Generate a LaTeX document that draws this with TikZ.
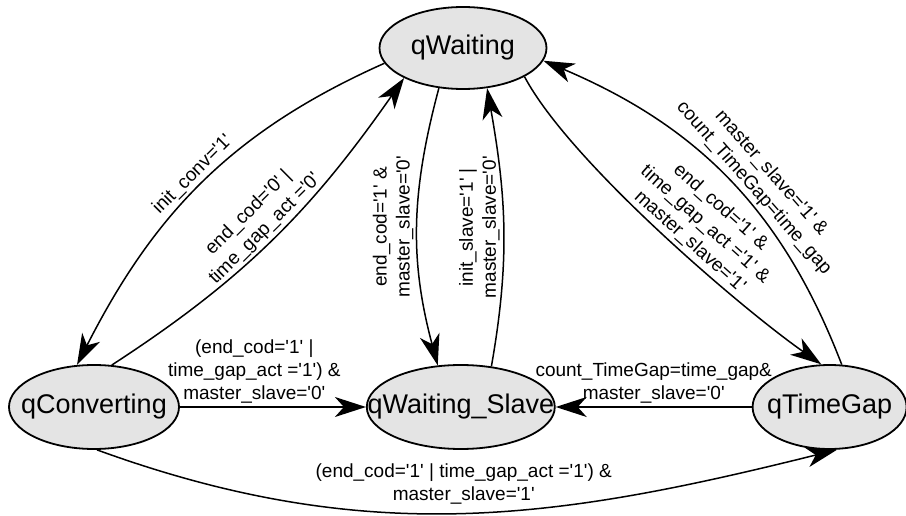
\documentclass[tikz,border=0pt]{standalone}
\usepackage{fontspec}
\setmainfont{Liberation Sans}[Ligatures=TeXOff]
\usetikzlibrary{shapes,arrows.meta,positioning}
\definecolor{stategray}{RGB}{228,228,228}

\begin{document}
\begin{tikzpicture}[
    x=1pt, y=1pt,
    state/.style={ellipse, draw, line width=1.8pt, fill=stategray, inner xsep=-30pt, inner ysep=0pt, minimum height=84pt, font=\fontsize{27}{32}\selectfont},
    trans/.style={-{Stealth[length=31pt, width=20pt, inset=9pt]}, line width=1.5pt},
    cond/.style={font=\fontsize{19}{23}\selectfont, align=center, inner sep=3pt}
]
    \useasboundingbox (0,0) rectangle (906,515);

    % States
    \node[state, minimum width=167pt, minimum height=82pt] (wait) at (463,467) {qWaiting};
    \node[state, minimum width=170pt] (conv) at (94,108) {qConverting};
    \node[state, minimum width=188pt, right=186pt of conv] (slave) {qWaiting\_Slave};
    \node[state, minimum width=154pt, right=196pt of slave] (gap) {qTimeGap};

    % Transitions around qWaiting
    \draw[trans] (wait.191) to[out=204, in=63]
        node[cond, midway, sloped, above] {init\_conv='1'} (conv.112);
    \draw[trans] (conv.67) to[out=33, in=235]
        node[cond, midway, sloped, above] {end\_cod='0' |\\time\_gap\_act ='0'} (wait.207);
    \draw[trans] (wait.239) to[out=255, in=105]
        node[cond, midway, rotate=90, anchor=south] {end\_cod='1' \&\\master\_slave='0'} (slave.119);
    \draw[trans] (slave.53) to[out=80, in=280]
        node[cond, midway, rotate=90, anchor=south] {init\_slave='1' |\\master\_slave='0'} (wait.301);
    \draw[trans] (wait.335) to[out=298, in=145, looseness=0.6]
        node[cond, pos=0.56, sloped, above] {end\_cod='1' \&\\time\_gap\_act ='1' \&\\master\_slave='1'} (gap.101);
    \draw[trans] (gap.74) to[out=111, in=337]
        node[cond, pos=0.44, sloped, above] {master\_slave='1' \&\\count\_TimeGap=time\_gap} (wait.351);

    % Bottom row
    \draw[trans] (conv) -- node[cond, pos=0.4, above] {(end\_cod='1' |\\time\_gap\_act ='1') \&\\master\_slave='0'} (slave);
    \draw[trans] (gap) -- node[cond, midway, above] {count\_TimeGap=time\_gap\&\\master\_slave='0'} (slave);
    \draw[trans] (conv.274) to[out=340, in=194]
        node[cond, midway, above=5pt] {(end\_cod='1' | time\_gap\_act ='1') \&\\master\_slave='1'} (gap.280);
\end{tikzpicture}
\end{document}
